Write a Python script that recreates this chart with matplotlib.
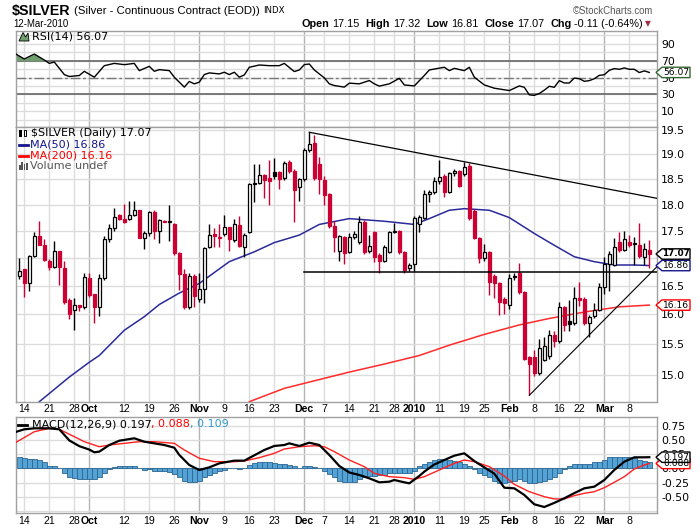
import matplotlib
matplotlib.use("Agg")
import matplotlib.pyplot as plt
from matplotlib.patches import Polygon, Rectangle
from matplotlib.ticker import NullLocator, NullFormatter
import numpy as np

# ---- data ----
# one bar per trading day, 11-Sep-2009 .. 12-Mar-2010 (index 0..126)
opens = [16.68, 16.79, 16.55, 17.04, 17.40, 17.24, 16.94, 16.83, 17.12, 16.82,
         16.24, 16.08, 16.17, 16.13, 16.64, 16.36, 16.13, 16.64, 17.35, 17.56,
         17.80, 17.73, 17.73, 17.79, 17.89, 17.37, 17.45, 17.85, 17.49, 17.69,
         17.67, 17.62, 17.09, 16.70, 16.12, 16.68, 16.27, 16.45, 17.20, 17.44,
         17.39, 17.44, 17.57, 17.33, 17.61, 17.20, 17.48, 18.40, 18.42, 18.58,
         18.52, 18.63, 18.63, 18.51, 18.84, 18.66, 18.35, 18.50, 19.08, 19.22,
         18.80, 18.48, 18.20, 17.59, 17.12, 17.38, 17.11, 17.39, 17.29, 17.67,
         17.13, 17.47, 17.05, 16.94, 17.10, 17.48, 17.50, 17.11, 16.81, 16.89,
         17.62, 17.75, 18.20, 18.24, 18.46, 18.56, 18.25, 18.62, 18.66, 18.60,
         18.76, 17.88, 17.36, 17.00, 17.10, 16.67, 16.54, 16.26, 16.16, 16.67,
         16.72, 16.39, 15.28, 15.28, 15.02, 15.24, 15.30, 15.65, 15.55, 16.12,
         15.89, 15.85, 16.28, 16.26, 15.85, 15.97, 16.08, 16.48, 16.88, 16.87,
         17.30, 17.14, 17.29, 17.26, 17.24, 17.02, 17.15]
highs = [16.99, 16.80, 17.05, 17.47, 17.69, 17.35, 16.97, 17.31, 17.13, 16.95,
         16.28, 16.28, 16.17, 16.73, 16.73, 16.36, 16.70, 17.40, 17.62, 17.94,
         17.82, 18.01, 18.07, 18.06, 17.89, 17.50, 17.88, 17.90, 17.72, 17.70,
         17.99, 17.65, 17.10, 16.80, 16.72, 16.70, 16.72, 17.20, 17.62, 17.56,
         17.62, 17.80, 17.58, 17.72, 17.78, 17.45, 18.42, 18.80, 18.80, 18.60,
         18.87, 18.93, 18.65, 18.86, 18.89, 18.70, 18.52, 19.12, 19.45, 19.40,
         18.95, 18.55, 18.22, 17.69, 17.42, 17.40, 17.45, 17.50, 17.78, 17.70,
         17.42, 17.50, 17.08, 17.23, 17.50, 17.64, 17.52, 17.13, 16.90, 17.78,
         17.80, 18.28, 18.28, 18.54, 18.89, 18.60, 18.64, 18.70, 18.68, 18.84,
         18.81, 17.92, 17.39, 17.26, 17.12, 16.70, 16.56, 16.30, 16.70, 16.73,
         16.90, 16.40, 15.30, 15.40, 15.59, 15.62, 15.73, 15.72, 16.22, 16.14,
         16.25, 16.48, 16.57, 16.30, 15.99, 16.19, 16.55, 17.02, 17.12, 17.36,
         17.48, 17.50, 17.42, 17.39, 17.64, 17.28, 17.32]
lows = [16.61, 16.30, 16.40, 17.02, 17.23, 16.95, 16.78, 16.82, 16.52, 16.18,
        15.92, 15.73, 16.05, 16.10, 16.30, 15.86, 15.98, 16.60, 17.30, 17.50,
        17.70, 17.65, 17.70, 17.78, 17.37, 17.17, 17.40, 17.34, 17.28, 17.66,
        17.31, 17.05, 16.43, 16.10, 16.10, 16.12, 16.22, 16.20, 17.18, 17.20,
        17.20, 17.40, 17.13, 17.30, 17.20, 17.02, 17.45, 18.05, 18.40, 18.13,
        18.00, 18.50, 18.30, 18.48, 18.62, 17.67, 18.07, 18.45, 19.05, 18.48,
        18.20, 18.00, 17.55, 17.10, 16.95, 16.88, 17.08, 17.35, 17.25, 17.07,
        17.08, 16.93, 16.72, 16.92, 17.08, 17.45, 17.07, 16.73, 16.76, 16.76,
        17.48, 17.72, 18.05, 18.20, 18.40, 18.14, 18.22, 18.55, 18.34, 18.56,
        17.70, 17.34, 16.90, 16.95, 16.34, 16.28, 15.99, 16.01, 16.09, 16.60,
        16.36, 15.24, 14.68, 14.98, 15.00, 15.22, 15.26, 15.45, 15.51, 15.71,
        15.71, 15.82, 16.15, 15.82, 15.62, 15.93, 16.06, 16.36, 16.40, 16.85,
        17.10, 17.12, 17.20, 16.87, 17.00, 16.87, 16.81]
closes = [16.77, 16.55, 17.04, 17.40, 17.23, 16.96, 16.83, 17.12, 16.83, 16.22,
          16.01, 16.17, 16.13, 16.65, 16.34, 16.13, 16.64, 17.35, 17.56, 17.76,
          17.73, 17.67, 17.79, 17.89, 17.37, 17.46, 17.85, 17.49, 17.71, 17.67,
          17.68, 17.09, 16.70, 16.13, 16.68, 16.32, 16.45, 17.18, 17.43, 17.40,
          17.37, 17.57, 17.34, 17.62, 17.22, 17.43, 18.40, 18.43, 18.57, 18.48,
          18.46, 18.55, 18.50, 18.82, 18.66, 18.29, 18.50, 19.08, 19.21, 18.52,
          18.49, 18.19, 17.59, 17.38, 17.40, 17.08, 17.39, 17.44, 17.67, 17.11,
          17.22, 17.02, 16.94, 17.19, 17.47, 17.50, 17.11, 16.78, 16.87, 17.75,
          17.76, 18.20, 18.24, 18.46, 18.54, 18.25, 18.62, 18.66, 18.36, 18.73,
          17.75, 17.36, 16.99, 17.10, 16.57, 16.55, 16.22, 16.19, 16.64, 16.66,
          16.38, 15.26, 15.17, 15.02, 15.44, 15.46, 15.65, 15.55, 16.13, 15.82,
          15.84, 16.28, 16.24, 15.85, 15.96, 16.08, 16.48, 16.89, 17.07, 17.19,
          17.14, 17.34, 17.23, 17.28, 17.03, 17.17, 17.07]

ma50_x = [4, 10, 14, 16, 21, 25, 28, 32, 36, 42, 47, 51, 56, 60, 66, 73, 79,
          82, 86, 89, 94, 98, 103, 107, 111, 115, 119, 123, 126]
ma50_v = [14.57, 14.96, 15.20, 15.31, 15.73, 15.96, 16.17, 16.37, 16.54, 16.93,
          17.11, 17.28, 17.42, 17.62, 17.73, 17.68, 17.62, 17.73, 17.89, 17.92,
          17.89, 17.75, 17.45, 17.23, 17.02, 16.93, 16.87, 16.87, 16.86]
ma200_x = [46, 53, 60, 66, 73, 80, 86, 93, 100, 106, 113, 120, 126]
ma200_v = [14.57, 14.78, 14.92, 15.04, 15.17, 15.31, 15.48, 15.66, 15.82, 15.93,
           16.04, 16.13, 16.16]

# hand drawn trend lines
trend_top_x, trend_top_y = [58, 127.54], [19.45, 18.12]
support_x, support_y = [57, 127.54], [16.75, 16.75]
trend_up_x, trend_up_y = [102, 127.54], [14.67, 16.84]

rsi_x = [-1, 1, 3, 5, 6, 7, 9, 10, 12, 13, 15, 17, 19, 21, 23, 24, 26, 27, 28,
         30, 31, 33, 34, 35, 36, 37, 38, 40, 41, 42, 43, 44, 45, 46, 48, 50, 52,
         53, 55, 56, 57, 58, 59, 61, 62, 63, 65, 66, 68, 70, 71, 72, 74, 76, 77,
         79, 81, 82, 85, 86, 87, 89, 90, 91, 93, 95, 98, 100, 101, 102, 103, 104,
         105, 106, 107, 108, 109, 110, 111, 112, 113, 114, 115, 116, 117, 118,
         119, 120, 121, 122, 123, 124, 125, 126]
rsi_v = [79.0, 72.0, 77.9, 70.8, 66.8, 68.4, 53.5, 51.2, 52.4, 57.4, 50.4, 64.1,
         66.8, 65.3, 66.8, 58.2, 63.3, 57.4, 59.4, 58.2, 50.4, 38.6, 45.3, 42.5,
         44.5, 53.5, 55.5, 54.3, 56.3, 53.5, 56.3, 50.4, 53.1, 62.2, 64.9, 64.1,
         64.1, 66.8, 57.1, 59.0, 65.3, 66.1, 59.0, 49.6, 42.5, 40.5, 38.6, 43.3,
         42.5, 46.4, 42.5, 39.8, 42.5, 49.0, 41.2, 40.0, 52.4, 59.0, 62.2, 58.2,
         60.9, 58.2, 62.2, 50.4, 41.2, 37.3, 34.5, 40.0, 38.4, 29.4, 28.8, 31.0,
         35.0, 39.6, 38.4, 46.3, 43.5, 43.5, 49.4, 48.6, 45.5, 46.3, 48.6, 52.6,
         53.3, 58.6, 60.6, 59.8, 61.4, 59.8, 59.8, 55.9, 57.9, 56.07]

macd_x = [-1, 1, 3, 6, 8, 10, 12, 14, 15, 16, 18, 20, 23, 25, 27, 29, 31, 32, 34,
          36, 38, 40, 43, 45, 47, 49, 51, 53, 54, 56, 58, 60, 62, 64, 66, 68, 70,
          72, 74, 75, 77, 78, 80, 81, 83, 85, 87, 89, 91, 93, 95, 97, 99, 101,
          103, 105, 107, 109, 111, 113, 115, 117, 119, 121, 123, 125, 126]
macd_v = [0.63, 0.684, 0.701, 0.701, 0.684, 0.49, 0.39, 0.33, 0.283, 0.294, 0.41,
          0.485, 0.527, 0.468, 0.439, 0.41, 0.363, 0.236, 0.061, -0.026, 0.02,
          0.09, 0.137, 0.137, 0.23, 0.323, 0.393, 0.41, 0.439, 0.393, 0.45, 0.41,
          0.236, 0.044, -0.07, -0.113, -0.172, -0.241, -0.23, -0.201, -0.241,
          -0.259, -0.13, -0.055, 0.07, 0.148, 0.224, 0.265, 0.13, 0.02, -0.09,
          -0.335, -0.346, -0.462, -0.625, -0.672, -0.60, -0.52, -0.43, -0.346,
          -0.317, -0.201, -0.026, 0.119, 0.195, 0.195, 0.197]
signal_x = [-1, 3, 6, 8, 11, 13, 16, 18, 21, 24, 27, 31, 33, 36, 39, 43, 45, 48,
            51, 53, 56, 59, 61, 63, 66, 69, 71, 74, 77, 79, 81, 84, 87, 89, 91,
            94, 97, 99, 102, 105, 107, 109, 111, 113, 115, 117, 119, 121, 123,
            125, 126]
signal_v = [0.439, 0.642, 0.701, 0.684, 0.555, 0.468, 0.38, 0.41, 0.439, 0.468,
            0.468, 0.439, 0.323, 0.178, 0.119, 0.119, 0.131, 0.189, 0.265, 0.34,
            0.38, 0.398, 0.38, 0.294, 0.148, 0.032, -0.085, -0.143, -0.16, -0.189,
            -0.143, -0.026, 0.09, 0.148, 0.119, 0.032, -0.131, -0.277, -0.405,
            -0.492, -0.532, -0.532, -0.474, -0.433, -0.405, -0.335, -0.241,
            -0.143, -0.009, 0.061, 0.088]
hist_v = [0.192, 0.175, 0.163, 0.163, 0.151, 0.105, 0.047, 0.035, 0.0, -0.070,
          -0.145, -0.169, -0.186, -0.175, -0.175, -0.175, -0.145, -0.087, -0.012,
          0.029, 0.047, 0.047, 0.047, 0.047, 0.017, -0.023, -0.005, -0.041,
          -0.041, -0.041, -0.058, -0.099, -0.157, -0.215, -0.233, -0.233, -0.215,
          -0.157, -0.116, -0.070, -0.041, -0.023, 0.003, 0.012, -0.012, 0.003,
          0.058, 0.093, 0.105, 0.105, 0.105, 0.093, 0.076, 0.076, 0.058, 0.035,
          0.017, 0.035, 0.047, 0.029, 0.003, -0.041, -0.099, -0.157, -0.215,
          -0.233, -0.240, -0.233, -0.186, -0.157, -0.128, -0.128, -0.116, -0.105,
          -0.081, -0.070, -0.070, -0.070, -0.081, -0.041, 0.035, 0.076, 0.116,
          0.151, 0.163, 0.163, 0.151, 0.134, 0.105, 0.076, 0.035, -0.012, -0.070,
          -0.110, -0.157, -0.215, -0.256, -0.256, -0.233, -0.215, -0.186, -0.215,
          -0.256, -0.256, -0.233, -0.215, -0.186, -0.140, -0.081, -0.012, 0.035,
          0.076, 0.087, 0.087, 0.087, 0.105, 0.116, 0.151, 0.192, 0.192, 0.192,
          0.192, 0.192, 0.180, 0.151, 0.134, 0.109]

tick_idx = [1, 6, 11, 14, 21, 26, 31, 36, 41, 46, 51, 57, 61, 66, 71, 75, 79, 84,
            89, 93, 98, 103, 108, 112, 117, 122]
tick_lbl = ["14", "21", "28", "Oct", "12", "19", "26", "Nov", "9", "16", "23",
            "Dec", "7", "14", "21", "28", "2010", "11", "19", "25", "Feb", "8",
            "16", "22", "Mar", "8"]
months = ["Oct", "Nov", "Dec", "2010", "Feb", "Mar"]

price_ticks = [15.0, 15.5, 16.0, 16.5, 17.0, 17.5, 18.0, 18.5, 19.0, 19.5]
rsi_ticks = [10, 30, 50, 70, 90]
macd_ticks = [-0.50, -0.25, 0.0, 0.25, 0.50, 0.75]

# ---- layout (pixels of a 700x530 picture) ----
W, H = 700, 530
L, R = 16, 657
X_LO, X_HI = (L - 19.3) / 5, (R - 19.3) / 5
RED = "#cc0033"
GRID = "#dcdcdc"
MONTH_GRID = "#b4b4b4"
SPINE = "#a0a0a0"

fig = plt.figure(figsize=(7, 5.3), dpi=100)
renderer = fig.canvas.get_renderer()


def fx(x):
    return x / W


def fy(y):
    return 1 - y / H


def panel(top, bottom):
    ax = fig.add_axes([fx(L), fy(bottom), (R - L) / W, (bottom - top) / H])
    ax.set_xlim(X_LO, X_HI)
    for s in ax.spines.values():
        s.set_color(SPINE)
        s.set_linewidth(1)
    ax.yaxis.tick_right()
    ax.tick_params(axis="y", length=0, pad=3, labelsize=7.8)
    ax.tick_params(axis="x", length=0)
    for i, lbl in zip(tick_idx, tick_lbl):
        ax.axvline(i, color=MONTH_GRID if lbl in months else GRID, lw=1, zorder=0)
    return ax


def date_labels(ax, pad):
    ax.set_xticks(tick_idx)
    ax.set_xticklabels(tick_lbl, family="Liberation Sans", fontsize=7.6)
    ax.tick_params(axis="x", pad=pad)
    for t in ax.get_xticklabels():
        if t.get_text() in months:
            t.set_fontweight("bold")


def row(segs, x, y, align="left"):
    # segs: (text, gap after, text kwargs)
    texts, widths = [], []
    for s, gap, kw in segs:
        t = fig.text(0, fy(y), s, va="center", ha="left", **kw)
        texts.append(t)
        widths.append(t.get_window_extent(renderer).width)
    total = sum(widths) + sum(g for _, g, _ in segs[:-1])
    cur = x - total if align == "right" else x
    for t, w, (_, gap, _) in zip(texts, widths, segs):
        t.set_x(fx(cur))
        cur += w + gap


def tag(ax, value, text, edge, bold=False):
    # pointed value box at the right end of a panel
    yd = ax.transData.transform((0, value))[1]
    x0, h = 656, 5.2
    pts = [(x0, yd), (x0 + 6, yd + h), (690, yd + h), (690, yd - h), (x0 + 6, yd - h)]
    fig.add_artist(Polygon([(px / W, py / H) for px, py in pts], closed=True,
                           transform=fig.transFigure, facecolor="white",
                           edgecolor=edge, lw=1, zorder=10))
    fig.text(fx(676), yd / H, text, va="center", ha="center",
             fontsize=6.3 if bold else 6.6,
             fontweight="bold" if bold else "normal", color="black", zorder=11)


# ---- RSI panel ----
ax_rsi = panel(31, 127)
ax_rsi.set_ylim(-8.8, 105.3)
for v in range(0, 101, 10):
    ax_rsi.axhline(v, color=GRID, lw=1, zorder=0)
ax_rsi.axhline(70, color="#666666", lw=1.2, zorder=1)
ax_rsi.axhline(30, color="#666666", lw=1.2, zorder=1)
ax_rsi.axhline(50, color="#777777", lw=1, dashes=(7, 2, 2, 2), zorder=1)
rsi_arr = np.array(rsi_v)
ax_rsi.fill_between(rsi_x, rsi_arr, 70, where=rsi_arr > 70, interpolate=True,
                    color="#6f9f6f", lw=0, zorder=2)
ax_rsi.plot(rsi_x, rsi_v, color="black", lw=1, zorder=3)
ax_rsi.set_yticks(rsi_ticks)
ax_rsi.set_yticklabels([str(v) for v in rsi_ticks])
ax_rsi.set_xticks([])

# ---- price panel ----
ax_p = panel(127, 401.7)
ax_p.set_yscale("log")
ax_p.set_ylim(14.57, 19.56)
ax_p.yaxis.set_minor_locator(NullLocator())
ax_p.yaxis.set_minor_formatter(NullFormatter())
ax_p.set_yticks(price_ticks)
ax_p.set_yticklabels([f"{v:.1f}" for v in price_ticks])
for v in price_ticks:
    ax_p.axhline(v, color=GRID, lw=1, zorder=0)
date_labels(ax_p, 1.5)

ax_p.plot(ma50_x, ma50_v, color="#2a2a9a", lw=1.1, zorder=2)
ax_p.plot(ma200_x, ma200_v, color="#ff2a2a", lw=1.1, zorder=2)

# candles: hollow when close > open, red when close < previous close
idx = np.arange(len(closes))
body_lo, body_h, faces, edges = [], [], [], []
for i in idx:
    o, c = opens[i], closes[i]
    prev = closes[i - 1] if i > 0 else o
    col = RED if c < prev else "black"
    body_lo.append(min(o, c))
    body_h.append(max(abs(c - o), 0.012))
    faces.append(col if c < o else "white")
    edges.append(col)
ax_p.vlines(idx, lows, highs, colors=edges, lw=1, zorder=3)
ax_p.bar(idx, body_h, bottom=body_lo, width=0.7, color=faces, edgecolor=edges,
         linewidth=0.9, zorder=4)

ax_p.plot(trend_top_x, trend_top_y, color="black", lw=0.9, zorder=5)
ax_p.plot(support_x, support_y, color="black", lw=1.1, zorder=5)
ax_p.plot(trend_up_x, trend_up_y, color="black", lw=0.8, zorder=5)

# ---- MACD panel ----
ax_m = panel(416.7, 513.3)
ax_m.set_ylim(-0.782, 0.904)
for v in [-0.75, -0.5, -0.25, 0, 0.25, 0.5, 0.75]:
    ax_m.axhline(v, color=GRID, lw=1, zorder=0)
ax_m.bar(idx, hist_v, width=1.0, color="#55a3d4", edgecolor="#2c6694",
         linewidth=0.6, zorder=2)
ax_m.plot(signal_x, signal_v, color="#ff2020", lw=1.0, zorder=3)
ax_m.plot(macd_x, macd_v, color="black", lw=1.6, zorder=4)
ax_m.set_yticks(macd_ticks)
ax_m.set_yticklabels([f"{v:.2f}" for v in macd_ticks])
date_labels(ax_m, 2.2)

# ---- value tags on the right ----
tag(ax_rsi, rsi_v[-1], "56.07", "#336633")
tag(ax_p, ma200_v[-1], "16.16", "#ff0000")
tag(ax_p, ma50_v[-1], "16.86", "#14148c")
tag(ax_p, closes[-1], "17.07", "black", bold=True)
tag(ax_m, signal_v[-1], "0.088", "#ff0000")
tag(ax_m, macd_v[-1], "0.197", "black")

# ---- legends inside panels ----
fs = 8
# small candle icon
fig.add_artist(Rectangle((fx(19), fy(137)), 2.5 / W, 7 / H, facecolor="black",
                         transform=fig.transFigure, zorder=6))
fig.add_artist(Rectangle((fx(23.5), fy(136)), 2.5 / W, 6 / H, facecolor="white",
                         edgecolor="black", lw=0.7, transform=fig.transFigure, zorder=6))
fig.text(fx(31), fy(132.5), "$SILVER (Daily) 17.07", fontsize=fs, va="center")
fig.add_artist(plt.Line2D([fx(19), fx(28)], [fy(144.5)] * 2, color="#14148c", lw=2,
                          transform=fig.transFigure))
fig.text(fx(30), fy(144.5), "MA(50) 16.86", fontsize=fs, va="center", color="#14148c")
fig.add_artist(plt.Line2D([fx(19), fx(28)], [fy(155.7)] * 2, color="#ff0000", lw=2,
                          transform=fig.transFigure))
fig.text(fx(30), fy(155.7), "MA(200) 16.16", fontsize=fs, va="center", color="#ff0000")
for k, hgt in enumerate([5, 8, 6, 7]):
    fig.add_artist(Rectangle((fx(19 + 2.3 * k), fy(170)), 1.8 / W, hgt / H,
                             facecolor="#555555", transform=fig.transFigure))
fig.text(fx(30.5), fy(165.8), "Volume undef", fontsize=fs, va="center", color="#555555")

# RSI icon and label
fig.add_artist(Polygon([(fx(19), fy(41)), (fx(23), fy(32.5)), (fx(25.5), fy(37)),
                        (fx(28), fy(33)), (fx(29), fy(41))], closed=True,
                       facecolor="#6f9f6f", edgecolor="black", lw=0.6,
                       transform=fig.transFigure, zorder=6))
fig.text(fx(31.5), fy(36.5), "RSI(14) 56.07", fontsize=fs, va="center")

# MACD label
fig.add_artist(plt.Line2D([fx(18), fx(27)], [fy(424.5)] * 2, color="black", lw=2,
                          transform=fig.transFigure))
row([("MACD(12,26,9) 0.197", 0, dict(fontsize=fs)),
     (", 0.088", 0, dict(fontsize=fs, color="#ff0000")),
     (", 0.109", 0, dict(fontsize=fs, color="#3399cc"))], 31.5, 424.5)

# ---- header ----
LIB = ["Liberation Sans", "DejaVu Sans"]
row([("$SILVER", 3, dict(family=LIB, fontsize=10.3, fontweight="bold")),
     ("(Silver - Continuous Contract (EOD))", 4, dict(family=LIB, fontsize=8.2)),
     ("INDX", 0, dict(fontsize=6.2))], 12, 10.5)
fig.text(fx(13), fy(24), "12-Mar-2010", family=LIB, fontsize=6.9, va="center")
fig.text(fx(653), fy(11.5), "\u00a9StockCharts.com", family=LIB, fontsize=6.9,
         va="center", ha="right", color="#555555")
b = dict(family=LIB, fontsize=7.8, fontweight="bold")
n = dict(family=LIB, fontsize=7.8)
row([("Open", 3, b), ("17.15", 6, n), ("High", 3, b), ("17.32", 6, n),
     ("Low", 3, b), ("16.81", 6, n), ("Close", 3, b), ("17.07", 6, n),
     ("Chg", 3, b), ("-0.11 (-0.64%)", 2, n),
     ("\u25bc", 0, dict(family=["DejaVu Sans"], fontsize=5.5, color="#993344"))],
    651, 24, align="right")

fig.savefig("out.png", dpi=100)
